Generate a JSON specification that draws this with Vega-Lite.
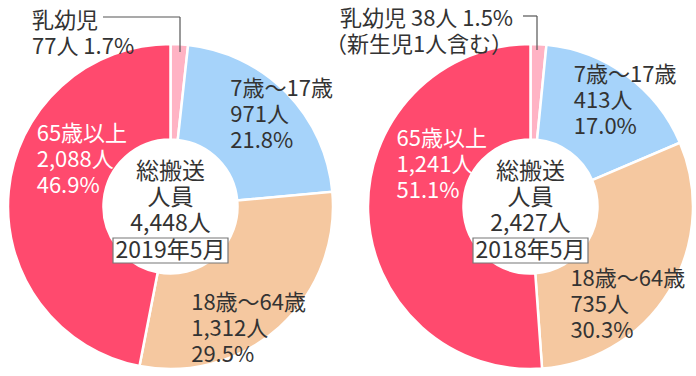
{
  "$schema": "https://vega.github.io/schema/vega-lite/v6.json",
  "width": 696,
  "height": 339,
  "autosize": {"type": "none"},
  "padding": {"left": 0, "right": 0, "top": 37, "bottom": 0},
  "background": "white",
  "config": {"view": {"stroke": null}, "text": {"font": "Noto Sans CJK JP", "lineBreak": "\n"}},
  "datasets": {
    "segments": [
      {"panel": "2019年5月", "year": 2019, "order": 1, "category": "乳幼児", "count": 77, "label": "乳幼児\n77人 1.7%"},
      {"panel": "2019年5月", "year": 2019, "order": 2, "category": "7歳～17歳", "count": 971, "label": "7歳～17歳\n971人\n21.8%"},
      {"panel": "2019年5月", "year": 2019, "order": 3, "category": "18歳～64歳", "count": 1312, "label": "18歳～64歳\n1,312人\n29.5%"},
      {"panel": "2019年5月", "year": 2019, "order": 4, "category": "65歳以上", "count": 2088, "label": "65歳以上\n2,088人\n46.9%"},
      {"panel": "2018年5月", "year": 2018, "order": 1, "category": "乳幼児", "count": 38, "label": "乳幼児 38人 1.5%\n（新生児1人含む）"},
      {"panel": "2018年5月", "year": 2018, "order": 2, "category": "7歳～17歳", "count": 413, "label": "7歳～17歳\n413人\n17.0%"},
      {"panel": "2018年5月", "year": 2018, "order": 3, "category": "18歳～64歳", "count": 735, "label": "18歳～64歳\n735人\n30.3%"},
      {"panel": "2018年5月", "year": 2018, "order": 4, "category": "65歳以上", "count": 1241, "label": "65歳以上\n1,241人\n51.1%"}
    ],
    "totals": [
      {"panel": "2019年5月", "year": 2019, "total": "総搬送\n人員\n4,448人"},
      {"panel": "2018年5月", "year": 2018, "total": "総搬送\n人員\n2,427人"}
    ]
  },
  "layer": [
    {
      "data": {"name": "segments"},
      "mark": {"type": "arc", "innerRadius": 67, "stroke": "white", "strokeWidth": 2.5},
      "encoding": {
        "x": {"field": "panel", "type": "nominal", "scale": {"type": "point", "domain": ["2019年5月", "2018年5月"], "range": [170.5, 530.5], "padding": 0}, "axis": null},
        "theta": {"field": "count", "type": "quantitative", "stack": "normalize"},
        "radius": {"field": "year", "type": "quantitative", "scale": {"domain": [2018, 2019], "range": [162.5, 162.5], "zero": false}},
        "order": {"field": "order"},
        "color": {"field": "category", "type": "nominal", "legend": null, "scale": {"domain": ["乳幼児", "7歳～17歳", "18歳～64歳", "65歳以上"], "range": ["#FFB3C4", "#A6D3FA", "#F5C8A0", "#FF4A6E"]}}
      }
    },
    {
      "data": {"name": "segments"},
      "mark": {"type": "text", "align": "left", "baseline": "middle", "fontSize": 22, "lineHeight": 26, "color": "#333333", "radiusOffset": 12.5, "dx": -148, "dy": -11},
      "encoding": {
        "x": {"field": "panel", "type": "nominal", "scale": {"type": "point", "domain": ["2019年5月", "2018年5月"], "range": [170.5, 530.5], "padding": 0}, "axis": null},
        "theta": {"field": "count", "type": "quantitative", "stack": "normalize"},
        "radius": {"field": "year", "type": "quantitative", "scale": {"domain": [2018, 2019], "range": [162.5, 162.5], "zero": false}},
        "order": {"field": "order"},
        "detail": {"field": "category"},
        "text": {"condition": {"test": "datum.category === '乳幼児' && datum.year === 2019", "field": "label"}, "value": ""}
      }
    },
    {
      "data": {"name": "segments"},
      "mark": {"type": "text", "align": "right", "baseline": "middle", "fontSize": 22, "lineHeight": 26, "color": "#333333", "radiusOffset": 12.5, "dx": -26, "dy": -12.5},
      "encoding": {
        "x": {"field": "panel", "type": "nominal", "scale": {"type": "point", "domain": ["2019年5月", "2018年5月"], "range": [170.5, 530.5], "padding": 0}, "axis": null},
        "theta": {"field": "count", "type": "quantitative", "stack": "normalize"},
        "radius": {"field": "year", "type": "quantitative", "scale": {"domain": [2018, 2019], "range": [162.5, 162.5], "zero": false}},
        "order": {"field": "order"},
        "detail": {"field": "category"},
        "text": {"condition": {"test": "datum.category === '乳幼児' && datum.year === 2018", "field": "label"}, "value": ""}
      }
    },
    {
      "data": {"name": "segments"},
      "mark": {"type": "text", "align": "left", "baseline": "middle", "fontSize": 22, "lineHeight": 26, "color": "#333333", "radiusOffset": -27.5, "dx": -36.5, "dy": -23},
      "encoding": {
        "x": {"field": "panel", "type": "nominal", "scale": {"type": "point", "domain": ["2019年5月", "2018年5月"], "range": [170.5, 530.5], "padding": 0}, "axis": null},
        "theta": {"field": "count", "type": "quantitative", "stack": "normalize"},
        "radius": {"field": "year", "type": "quantitative", "scale": {"domain": [2018, 2019], "range": [162.5, 162.5], "zero": false}},
        "order": {"field": "order"},
        "detail": {"field": "category"},
        "text": {"condition": {"test": "datum.category === '7歳～17歳'", "field": "label"}, "value": ""}
      }
    },
    {
      "data": {"name": "segments"},
      "mark": {"type": "text", "align": "left", "baseline": "middle", "fontSize": 22, "lineHeight": 26, "color": "#333333", "radiusOffset": -57.5, "dx": -49.7, "dy": 18.2},
      "encoding": {
        "x": {"field": "panel", "type": "nominal", "scale": {"type": "point", "domain": ["2019年5月", "2018年5月"], "range": [170.5, 530.5], "padding": 0}, "axis": null},
        "theta": {"field": "count", "type": "quantitative", "stack": "normalize"},
        "radius": {"field": "year", "type": "quantitative", "scale": {"domain": [2018, 2019], "range": [162.5, 162.5], "zero": false}},
        "order": {"field": "order"},
        "detail": {"field": "category"},
        "text": {"condition": {"test": "datum.category === '18歳～64歳'", "field": "label"}, "value": ""}
      }
    },
    {
      "data": {"name": "segments"},
      "mark": {"type": "text", "align": "left", "baseline": "middle", "fontSize": 22, "lineHeight": 26, "color": "#FFFFFF", "radiusOffset": -122.5, "dx": -94, "dy": -68.5},
      "encoding": {
        "x": {"field": "panel", "type": "nominal", "scale": {"type": "point", "domain": ["2019年5月", "2018年5月"], "range": [170.5, 530.5], "padding": 0}, "axis": null},
        "theta": {"field": "count", "type": "quantitative", "stack": "normalize"},
        "radius": {"field": "year", "type": "quantitative", "scale": {"domain": [2018, 2019], "range": [162.5, 162.5], "zero": false}},
        "order": {"field": "order"},
        "detail": {"field": "category"},
        "text": {"condition": {"test": "datum.category === '65歳以上'", "field": "label"}, "value": ""}
      }
    },
    {
      "data": {"name": "totals"},
      "mark": {"type": "text", "align": "center", "baseline": "middle", "fontSize": 23, "lineHeight": 26, "color": "#333333", "dy": -34.5},
      "encoding": {
        "x": {"field": "panel", "type": "nominal", "scale": {"type": "point", "domain": ["2019年5月", "2018年5月"], "range": [170.5, 530.5], "padding": 0}, "axis": null},
        "text": {"field": "total"}
      }
    },
    {
      "data": {"name": "totals"},
      "mark": {"type": "point", "shape": "M-1,-0.2174H1V0.2174H-1Z", "size": 13225, "filled": false, "fill": "white", "fillOpacity": 1, "stroke": "#777777", "strokeWidth": 1.2, "opacity": 1, "yOffset": 44},
      "encoding": {
        "x": {"field": "panel", "type": "nominal", "scale": {"type": "point", "domain": ["2019年5月", "2018年5月"], "range": [170.5, 530.5], "padding": 0}, "axis": null}
      }
    },
    {
      "data": {"name": "totals"},
      "mark": {"type": "text", "align": "center", "baseline": "middle", "fontSize": 23, "color": "#333333", "dy": 44},
      "encoding": {
        "x": {"field": "panel", "type": "nominal", "scale": {"type": "point", "domain": ["2019年5月", "2018年5月"], "range": [170.5, 530.5], "padding": 0}, "axis": null},
        "text": {"field": "panel"}
      }
    },
    {
      "data": {"name": "totals"},
      "transform": [{"filter": "datum.year === 2019"}],
      "mark": {"type": "rule", "color": "#555555", "strokeWidth": 1.2, "xOffset": -67.5, "x2Offset": 9.5, "yOffset": -20},
      "encoding": {
        "x": {"field": "panel", "type": "nominal", "scale": {"type": "point", "domain": ["2019年5月", "2018年5月"], "range": [170.5, 530.5], "padding": 0}, "axis": null},
        "x2": {"field": "panel"},
        "y": {"field": "panel", "type": "nominal", "scale": {"type": "point", "domain": ["2019年5月", "2018年5月"], "range": [0, 0], "padding": 0}, "axis": null}
      }
    },
    {
      "data": {"name": "totals"},
      "transform": [{"filter": "datum.year === 2018"}],
      "mark": {"type": "rule", "color": "#555555", "strokeWidth": 1.2, "xOffset": -7.5, "x2Offset": 6.5, "yOffset": -21},
      "encoding": {
        "x": {"field": "panel", "type": "nominal", "scale": {"type": "point", "domain": ["2019年5月", "2018年5月"], "range": [170.5, 530.5], "padding": 0}, "axis": null},
        "x2": {"field": "panel"},
        "y": {"field": "panel", "type": "nominal", "scale": {"type": "point", "domain": ["2019年5月", "2018年5月"], "range": [0, 0], "padding": 0}, "axis": null}
      }
    },
    {
      "data": {"name": "totals"},
      "transform": [{"filter": "datum.year === 2019"}],
      "mark": {"type": "rule", "color": "#555555", "strokeWidth": 1.2, "xOffset": 9.5, "yOffset": -20, "y2Offset": 15},
      "encoding": {
        "x": {"field": "panel", "type": "nominal", "scale": {"type": "point", "domain": ["2019年5月", "2018年5月"], "range": [170.5, 530.5], "padding": 0}, "axis": null},
        "y": {"field": "panel", "type": "nominal", "scale": {"type": "point", "domain": ["2019年5月", "2018年5月"], "range": [0, 0], "padding": 0}, "axis": null},
        "y2": {"field": "panel"}
      }
    },
    {
      "data": {"name": "totals"},
      "transform": [{"filter": "datum.year === 2018"}],
      "mark": {"type": "rule", "color": "#555555", "strokeWidth": 1.2, "xOffset": 6.5, "yOffset": -21, "y2Offset": 13},
      "encoding": {
        "x": {"field": "panel", "type": "nominal", "scale": {"type": "point", "domain": ["2019年5月", "2018年5月"], "range": [170.5, 530.5], "padding": 0}, "axis": null},
        "y": {"field": "panel", "type": "nominal", "scale": {"type": "point", "domain": ["2019年5月", "2018年5月"], "range": [0, 0], "padding": 0}, "axis": null},
        "y2": {"field": "panel"}
      }
    }
  ]
}
